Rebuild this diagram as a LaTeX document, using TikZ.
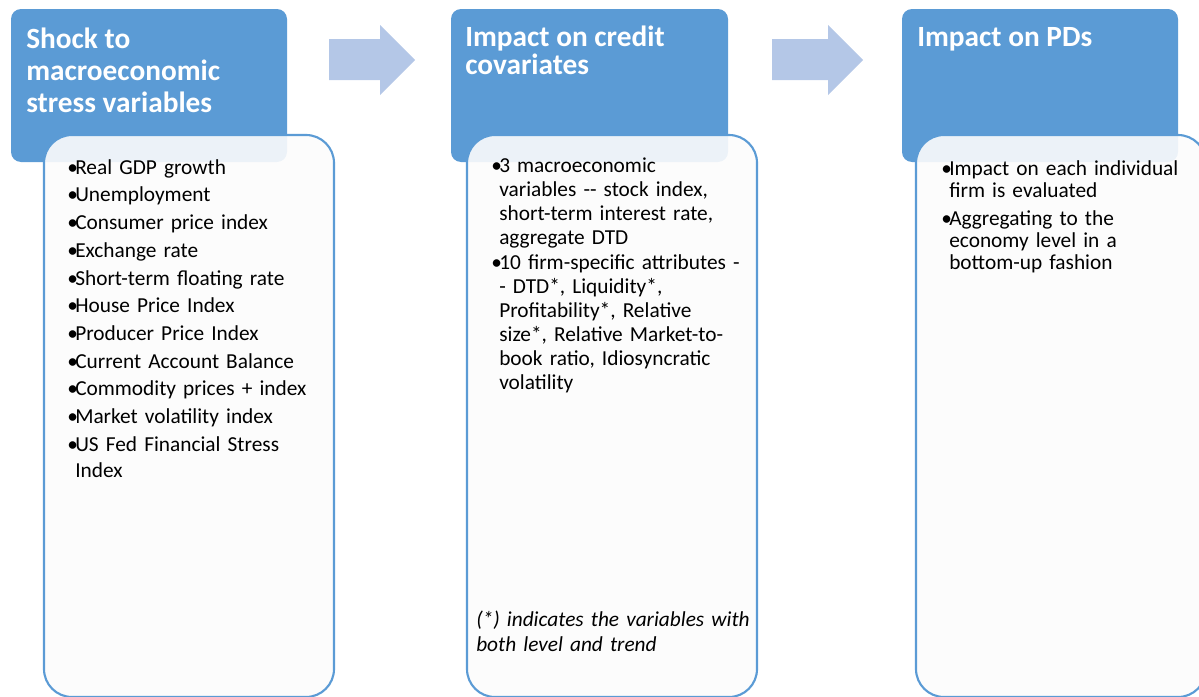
\documentclass[tikz,border=0pt]{standalone}
\usepackage{fontspec}
\setmainfont{Carlito}
\usetikzlibrary{positioning}

\definecolor{hdrblue}{HTML}{5B9BD5}
\definecolor{arrblue}{HTML}{B4C7E7}
\definecolor{paper}{HTML}{FCFCFC}

% one bullet item with hanging indent
\newcommand{\bitem}[1]{\hangindent=6pt\hangafter=1\noindent\makebox[6pt][l]{\textbullet}#1\par}

\begin{document}
\begin{tikzpicture}[x=0.75pt,y=-0.75pt,
    header/.style={fill=hdrblue, rounded corners=7.5pt},
    listbox/.style={draw=hdrblue, line width=1.6pt, fill=paper, fill opacity=0.9, rounded corners=21pt},
    blockarrow/.style={fill=arrblue},
    hdrtext/.style={text=white, font=\bfseries\fontsize{22}{24}\selectfont, align=left, anchor=north west, inner sep=0pt},
    listtext/.style={font=\fontsize{16}{18}\selectfont, align=left, anchor=north west, inner sep=0pt, text width=195pt}]
    \useasboundingbox (0,0) rectangle (1199,696);

    % header boxes
    \fill[header] (11,9) rectangle (287,162);
    \fill[header] (451,9) rectangle (728,162);
    \fill[header] (902,9) rectangle (1178,162);

    % block arrows between the stages
    \fill[blockarrow] (329,39) -- (380,39) -- (380,25) -- (415,60) -- (380,95) -- (380,80) -- (329,80) -- cycle;
    \fill[blockarrow] (772,39) -- (828,39) -- (828,25) -- (863,60) -- (828,95) -- (828,80) -- (772,80) -- cycle;

    % list boxes (lie over the headers)
    \filldraw[listbox] (44,135) rectangle (334,697);
    \filldraw[listbox] (467,135) rectangle (757,697);
    \filldraw[listbox] (916,135) rectangle (1206,697);

    % header texts
    \node[hdrtext] (shock) at (26,28) {Shock to\\macroeconomic\\stress variables};
    \node[hdrtext, font=\bfseries\fontsize{22}{21}\selectfont] (covar) at (465,26) {Impact on credit\\covariates};
    \node[hdrtext] (pds) at (917,27) {Impact on PDs};

    % stage 1 list
    \node[listtext, font=\fontsize{16}{19.5}\selectfont] (shocklist) at (67,159) {\setlength\parskip{1.3pt}%
        \bitem{Real GDP growth}
        \bitem{Unemployment}
        \bitem{Consumer price index}
        \bitem{Exchange rate}
        \bitem{Short-term floating rate}
        \bitem{House Price Index}
        \bitem{Producer Price Index}
        \bitem{Current Account Balance}
        \bitem{Commodity prices + index}
        \bitem{Market volatility index}
        \bitem{US Fed Financial Stress\newline Index}};

    % stage 2 list
    \node[listtext] (covarlist) at (491,158) {\setlength\parskip{0.75pt}%
        \bitem{3 macroeconomic\newline variables -{}- stock index,\newline short-term interest rate,\newline aggregate DTD}
        \bitem{10 firm-specific attributes -\newline - DTD*, Liquidity*,\newline Profitability*, Relative\newline size*, Relative Market-to-\newline book ratio, Idiosyncratic\newline volatility}};
    \node[listtext, font=\itshape\fontsize{16}{18.75}\selectfont, text width=260pt] (note) at (476,611)
        {(*) indicates the variables with\newline both level and trend};

    % stage 3 list
    \node[listtext, font=\fontsize{16}{16.5}\selectfont] (pdslist) at (941,160) {\setlength\parskip{5pt}%
        \bitem{Impact on each individual\newline firm is evaluated}
        \bitem{Aggregating to the\newline economy level in a\newline bottom-up fashion}};
\end{tikzpicture}
\end{document}
